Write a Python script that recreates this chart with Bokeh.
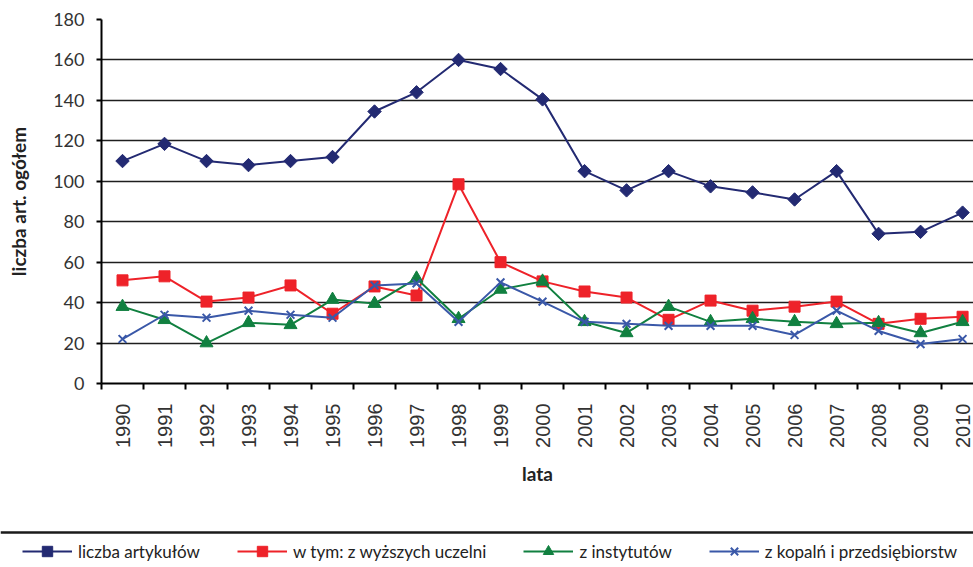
from math import pi
from bokeh.plotting import figure
from bokeh.models import Range1d, FixedTicker, Span, Legend, LegendItem, ColumnDataSource
from bokeh.layouts import column
from bokeh.embed import file_html
from bokeh.resources import INLINE

years = ["1990", "1991", "1992", "1993", "1994", "1995", "1996", "1997", "1998", "1999", "2000",
         "2001", "2002", "2003", "2004", "2005", "2006", "2007", "2008", "2009", "2010"]
liczba_artykulow = [110, 118.5, 110, 108, 110, 112, 134.5, 144, 160, 155.5, 140.5,
                    105, 95.5, 105, 97.5, 94.5, 91, 105, 74, 75, 84.5]
uczelnie = [51, 53, 40.5, 42.5, 48.5, 34.5, 48, 43.5, 98.5, 60, 50.5,
            45.5, 42.5, 31.5, 41, 36, 38, 40.5, 29.5, 32, 33]
instytuty = [38, 31.5, 20, 30, 29, 41.5, 39.5, 52, 32, 46.5, 50.5,
             30.5, 25, 38, 30.5, 32, 30.5, 29.5, 30, 25, 30.5]
kopalnie = [22, 34, 32.5, 36, 34, 32.5, 48.5, 49.5, 30.5, 50, 40.5,
            30.5, 29.5, 28.5, 28.5, 28.5, 24, 36, 26, 19.5, 22]
labels = ["liczba artykułów", "w tym: z wyższych uczelni", "z instytutów", "z kopalń i przedsiębiorstw"]
y_ticks = [0, 20, 40, 60, 80, 100, 120, 140, 160, 180]

NAVY = "#232a72"
RED = "#ee2229"
GREEN = "#118040"
BLUE = "#3a58a8"

W = 973
H_MAIN, H_LEG = 519, 48
LEFT, TOP, BOTTOM = 101, 19, 136

idx = list(range(len(years)))
src = ColumnDataSource(dict(x=idx, art=liczba_artykulow, ucz=uczelnie, inst=instytuty, kop=kopalnie))

p = figure(width=W, height=H_MAIN, x_range=Range1d(-0.5, 20.26), y_range=Range1d(0, 180),
           output_backend="svg", toolbar_location=None,
           min_border_left=LEFT, min_border_right=0, min_border_top=TOP, min_border_bottom=BOTTOM)
p.outline_line_color = None

styles = [
    ("art", NAVY, dict(marker="square", angle=pi / 4, size=9.5, fill_color=NAVY, line_color=NAVY)),
    ("ucz", RED, dict(marker="square", size=11, fill_color=RED, line_color=RED)),
    ("inst", GREEN, dict(marker="triangle", size=13, fill_color=GREEN, line_color=GREEN)),
    ("kop", BLUE, dict(marker="x", size=11, line_color=BLUE, line_width=2)),
]
for col, color, mk in styles:
    p.line("x", col, source=src, line_color=color, line_width=2)
    p.scatter("x", col, source=src, **mk)

# x axis
xa = p.xaxis[0]
xa.ticker = FixedTicker(ticks=idx, minor_ticks=[i - 0.5 for i in range(len(years) + 1)])
xa.major_label_overrides = {i: y for i, y in zip(idx, years)}
xa.major_label_orientation = pi / 2
xa.major_tick_out = 0
xa.major_tick_in = 0
xa.minor_tick_out = 6
xa.minor_tick_in = 0
xa.minor_tick_line_color = "black"
xa.minor_tick_line_width = 2
xa.axis_line_color = "black"
xa.axis_line_width = 2
xa.major_label_text_font = "Liberation Sans"
xa.major_label_text_font_size = "20px"
xa.major_label_text_color = "#333333"
xa.major_label_standoff = 14
xa.axis_label = "lata"
xa.axis_label_text_font = "Lato"
xa.axis_label_text_font_style = "bold"
xa.axis_label_text_font_size = "19px"
xa.axis_label_text_color = "#222222"
xa.axis_label_standoff = 11

# y axis
ya = p.yaxis[0]
ya.ticker = FixedTicker(ticks=y_ticks)
ya.minor_tick_line_color = None
ya.major_tick_out = 5
ya.major_tick_in = 0
ya.major_tick_line_color = "black"
ya.major_tick_line_width = 2
ya.axis_line_color = "black"
ya.axis_line_width = 2
ya.major_label_text_font = "Lato"
ya.major_label_text_font_size = "18px"
ya.major_label_text_color = "#333333"
ya.major_label_standoff = 12
ya.axis_label = "liczba art. ogółem"
ya.axis_label_text_font = "Lato"
ya.axis_label_text_font_style = "bold"
ya.axis_label_text_font_size = "19px"
ya.axis_label_text_color = "#222222"
ya.axis_label_standoff = 20

p.xgrid.grid_line_color = None
p.ygrid.ticker = FixedTicker(ticks=y_ticks)
p.ygrid.grid_line_color = "#1e1e1e"
p.ygrid.grid_line_width = 1.5

# legend strip: its own plot whose frame spans the whole width;
# the series are drawn there outside the visible range so only the legend shows
lf = figure(width=W, height=H_LEG, x_range=Range1d(0, 1), y_range=Range1d(0, 1),
            x_axis_type=None, y_axis_type=None, output_backend="svg", toolbar_location=None,
            min_border=0, min_border_left=0, min_border_right=0, min_border_top=0, min_border_bottom=0)
lf.outline_line_color = None
lf.grid.grid_line_color = None
for fig in (p, lf):
    if "frame_align" in fig.properties():
        fig.frame_align = False

lf.add_layout(Span(location=1 - 13 / H_LEG, dimension="width", line_color="#1a1a1a", line_width=2.5))

items = []
for (col, color, mk), lab in zip(styles, labels):
    lr = lf.line("x", col, source=src, line_color=color, line_width=2)
    sr = lf.scatter("x", col, source=src, **mk)
    items.append(LegendItem(label=lab, renderers=[lr, sr]))

leg = Legend(items=items, orientation="horizontal", location=(22, 3),
             glyph_width=50, glyph_height=26, label_standoff=6, spacing=37,
             padding=0, margin=0, border_line_color=None, background_fill_alpha=0,
             label_text_font="Lato", label_text_font_size="17px", label_text_color="#222222")
lf.add_layout(leg)

layout = column(p, lf, spacing=0)
open("out.html", "w").write(file_html(layout, INLINE))
